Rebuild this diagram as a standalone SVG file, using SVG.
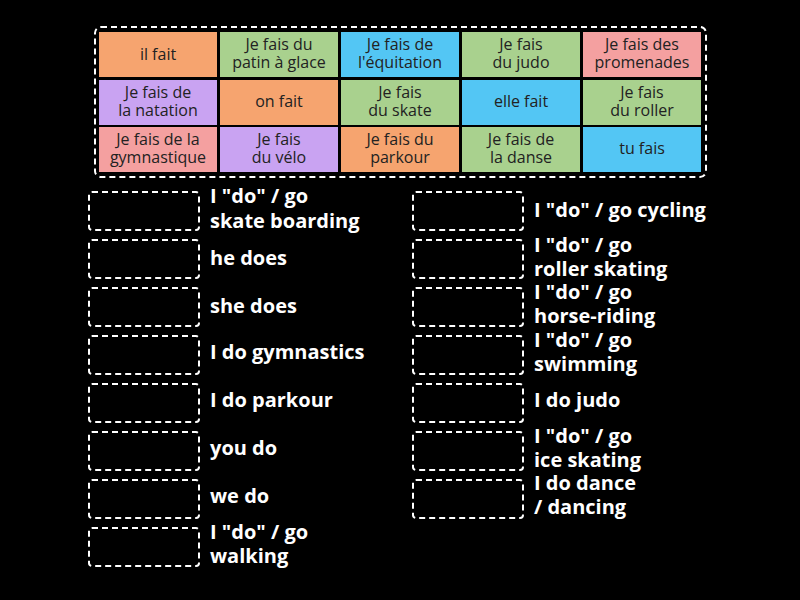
<svg xmlns="http://www.w3.org/2000/svg" width="800" height="600" viewBox="0 0 800 600">
<style>
.t rect{stroke:none}
.t text{font-family:"Open Sans",sans-serif;font-size:16px;fill:#222;text-anchor:middle}
.box{fill:none;stroke:#fff;stroke-width:2;stroke-dasharray:6,4}
.lb{font-family:"Open Sans",sans-serif;font-size:20px;font-weight:bold;fill:#fff}
.o{fill:#f6a46f}.g{fill:#a9d18e}.b{fill:#53c6f4}.p{fill:#f4a0a0}.u{fill:#c9a3f2}
</style>
<rect width="800" height="600" fill="#000"/>
<rect x="95" y="27" width="611" height="150" rx="6" class="box"/>
<g class="t">
<g id="n1"><rect class="o" x="99" y="32" width="118" height="45"/><text x="158" y="60">il fait</text></g>
<g id="n2"><rect class="g" x="220" y="32" width="118" height="45"/><text x="279" y="50">Je fais du</text><text x="279" y="68">patin à glace</text></g>
<g id="n3"><rect class="b" x="341" y="32" width="118" height="45"/><text x="400" y="50">Je fais de</text><text x="400" y="68">l'équitation</text></g>
<g id="n4"><rect class="g" x="462" y="32" width="118" height="45"/><text x="521" y="50">Je fais</text><text x="521" y="68">du judo</text></g>
<g id="n5"><rect class="p" x="583" y="32" width="118" height="45"/><text x="642" y="50">Je fais des</text><text x="642" y="68">promenades</text></g>
<g id="n6"><rect class="u" x="99" y="80" width="118" height="45"/><text x="158" y="98">Je fais de</text><text x="158" y="116">la natation</text></g>
<g id="n7"><rect class="o" x="220" y="80" width="118" height="45"/><text x="279" y="107">on fait</text></g>
<g id="n8"><rect class="g" x="341" y="80" width="118" height="45"/><text x="400" y="98">Je fais</text><text x="400" y="116">du skate</text></g>
<g id="n9"><rect class="b" x="462" y="80" width="118" height="45"/><text x="521" y="107">elle fait</text></g>
<g id="n10"><rect class="g" x="583" y="80" width="118" height="45"/><text x="642" y="98">Je fais</text><text x="642" y="116">du roller</text></g>
<g id="n11"><rect class="p" x="99" y="127" width="118" height="45"/><text x="158" y="145">Je fais de la</text><text x="158" y="163">gymnastique</text></g>
<g id="n12"><rect class="u" x="220" y="127" width="118" height="45"/><text x="279" y="145">Je fais</text><text x="279" y="163">du vélo</text></g>
<g id="n13"><rect class="o" x="341" y="127" width="118" height="45"/><text x="400" y="145">Je fais du</text><text x="400" y="163">parkour</text></g>
<g id="n14"><rect class="g" x="462" y="127" width="118" height="45"/><text x="521" y="145">Je fais de</text><text x="521" y="163">la danse</text></g>
<g id="n15"><rect class="b" x="583" y="127" width="118" height="45"/><text x="642" y="154">tu fais</text></g>
</g>
<g id="left">
<rect class="box" x="89" y="192" width="110" height="38" rx="3"/><text class="lb" x="210" y="203">I "do" / go</text><text class="lb" x="210" y="228">skate boarding</text>
<rect class="box" x="89" y="240" width="110" height="38" rx="3"/><text class="lb" x="210" y="265">he does</text>
<rect class="box" x="89" y="288" width="110" height="38" rx="3"/><text class="lb" x="210" y="313">she does</text>
<rect class="box" x="89" y="336" width="110" height="38" rx="3"/><text class="lb" x="210" y="359">I do gymnastics</text>
<rect class="box" x="89" y="384" width="110" height="38" rx="3"/><text class="lb" x="210" y="407">I do parkour</text>
<rect class="box" x="89" y="432" width="110" height="38" rx="3"/><text class="lb" x="210" y="455">you do</text>
<rect class="box" x="89" y="480" width="110" height="38" rx="3"/><text class="lb" x="210" y="503">we do</text>
<rect class="box" x="89" y="528" width="110" height="38" rx="3"/><text class="lb" x="210" y="539">I "do" / go</text><text class="lb" x="210" y="563">walking</text>
</g>
<g id="right">
<rect class="box" x="413" y="192" width="110" height="38" rx="3"/><text class="lb" x="534" y="217">I "do" / go cycling</text>
<rect class="box" x="413" y="240" width="110" height="38" rx="3"/><text class="lb" x="534" y="252">I "do" / go</text><text class="lb" x="534" y="276">roller skating</text>
<rect class="box" x="413" y="288" width="110" height="38" rx="3"/><text class="lb" x="534" y="299">I "do" / go</text><text class="lb" x="534" y="323">horse-riding</text>
<rect class="box" x="413" y="336" width="110" height="38" rx="3"/><text class="lb" x="534" y="347">I "do" / go</text><text class="lb" x="534" y="371">swimming</text>
<rect class="box" x="413" y="384" width="110" height="38" rx="3"/><text class="lb" x="534" y="407">I do judo</text>
<rect class="box" x="413" y="432" width="110" height="38" rx="3"/><text class="lb" x="534" y="443">I "do" / go</text><text class="lb" x="534" y="467">ice skating</text>
<rect class="box" x="413" y="480" width="110" height="38" rx="3"/><text class="lb" x="534" y="490">I do dance</text><text class="lb" x="534" y="514">/ dancing</text>
</g>
</svg>
